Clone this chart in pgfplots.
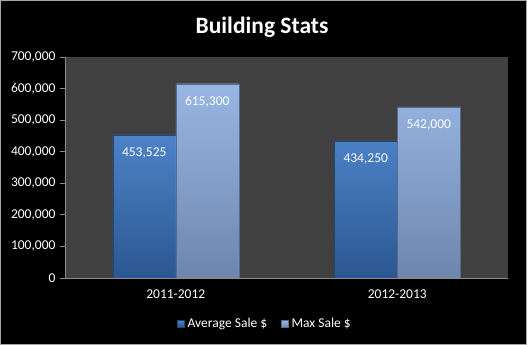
\documentclass[border=0pt]{standalone}
\usepackage{pgfplots}
\pgfplotsset{compat=1.18}
\usepackage{fontspec}
\setmainfont{Carlito}
\definecolor{plotbg}{HTML}{404040}
\definecolor{axgray}{HTML}{8C8C8C}
\definecolor{avgtop}{HTML}{4D82C8}
\definecolor{avgbot}{HTML}{2B5791}
\definecolor{maxtop}{HTML}{98B6E4}
\definecolor{maxbot}{HTML}{6E86AE}
\begin{document}
\begin{tikzpicture}[x=1pt,y=1pt]
\fill[black] (0,0) rectangle (527,345);
\draw[gray!70,line width=0.8pt] (0.4,0.4) rectangle (526.6,344.6);
\node[text=white,font=\fontsize{23.5}{27}\selectfont\bfseries] at (262,318) {Building Stats};
\begin{axis}[
  at={(65pt,67pt)}, anchor=south west,
  scale only axis, width=443pt, height=221pt,
  xmin=-0.5, xmax=1.5, ymin=0, ymax=700000,
  axis background/.style={fill=plotbg},
  axis x line*=bottom, axis y line*=left,
  axis line style={axgray, line width=0.8pt},
  ybar=0pt, bar width=63pt,
  xtick={0,1}, xticklabels={2011-2012,2012-2013},
  x tick style={draw=none},
  extra x ticks={-0.5,0.5,1.5}, extra x tick labels={},
  extra x tick style={tick align=outside, major tick length=5pt, tick style={draw=axgray, line width=0.8pt}},
  ytick={0,100000,...,700000},
  y tick style={draw=axgray, line width=0.8pt},
  tick align=outside, major tick length=5pt,
  scaled y ticks=false,
  /pgf/number format/assume math mode=true,
  tick label style={text=white, font=\fontsize{13.5}{15}\selectfont},
  yticklabel style={xshift=-1pt, /pgf/number format/.cd, fixed, 1000 sep={,}},
  xticklabel style={yshift=-3pt},
  nodes near coords={\pgfmathprintnumber[fixed,precision=0,1000 sep={,}]{\pgfplotspointmeta}},
  every node near coord/.append style={anchor=north, yshift=-9pt, text=white, font=\fontsize{13.5}{15}\selectfont, /pgf/number format/assume math mode=true},
  legend style={at={(0.4515,-0.208)}, anchor=center, draw=none, fill=none, text=white, font=\fontsize{13.5}{15}\selectfont, legend columns=2, /tikz/every even column/.append style={column sep=12pt}, /tikz/every odd column/.append style={column sep=1pt}},
  legend image code/.code={\shade[#1] (0pt,-3.5pt) rectangle (7pt,3.5pt);},
]
\addplot[draw=avgbot!80!black, top color=avgtop, bottom color=avgbot] coordinates {(0,453525) (1,434250)};
\addplot[draw=maxbot!80!black, top color=maxtop, bottom color=maxbot] coordinates {(0,615300) (1,542000)};
\legend{Average Sale \$, Max Sale \$}
\end{axis}
\end{tikzpicture}
\end{document}
